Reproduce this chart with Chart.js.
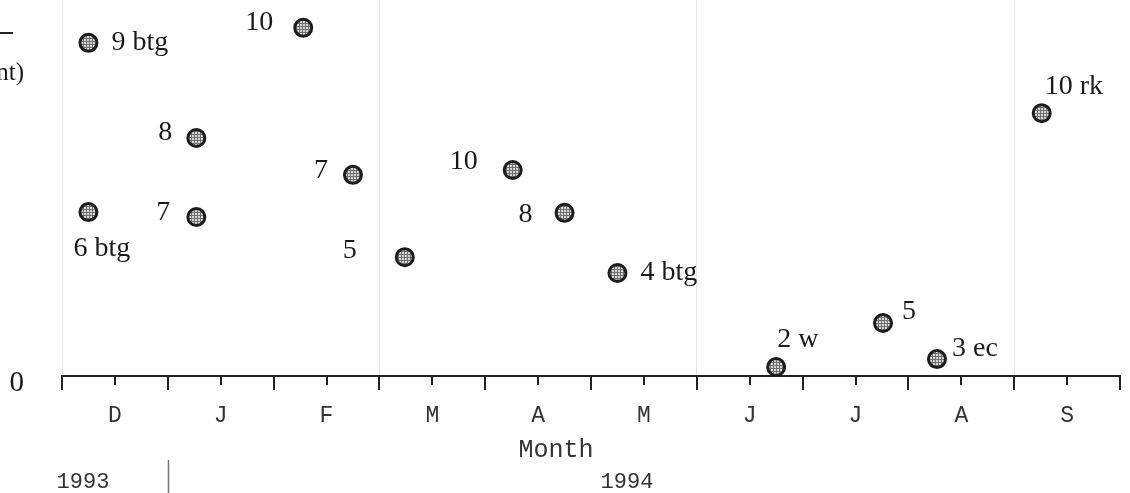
<!DOCTYPE html>
<html>
<head>
<meta charset="utf-8">
<script src="https://cdn.jsdelivr.net/npm/chart.js@4/dist/chart.umd.min.js"></script>
<style>
  html, body { margin: 0; padding: 0; background: #ffffff; }
  #wrap { width: 1130px; height: 493px; }
</style>
</head>
<body>
<div id="wrap"><canvas id="chart" width="1130" height="493"></canvas></div>
<script>
// Month axis: Dec 1993 .. Sep 1994, positions in months from 1 Dec 1993
const monthLabels = ['D', 'J', 'F', 'M', 'A', 'M', 'J', 'J', 'A', 'S'];
const yearLabels = ['1993', '1994'];

// Sampling dates (month position) and measured values
const sampleMonth = [0.25, 0.25, 1.27, 1.27, 2.28, 2.75, 3.24, 4.26, 4.75, 5.25, 6.75, 7.76, 8.27, 9.26];
const sampleValue = [88.6, 43.6, 63.3, 42.3, 92.6, 53.5, 31.6, 54.8, 43.4, 27.4, 2.4, 14.1, 4.5, 69.9];
const sampleNote  = ['9 btg', '6 btg', '8', '7', '10', '7', '5', '10', '8', '4 btg', '2 w', '5', '3 ec', '10 rk'];

// Where each note sits relative to its marker: [dx, dy, align]
const notePlacement = [
  [23, 0, 'left'], [-15, 37, 'left'], [-24, -5, 'right'], [-26, -4, 'right'],
  [-30, -5, 'right'], [-25, -4, 'right'], [-48, -7, 'right'], [-35, -8, 'right'],
  [-32, 2, 'right'], [23, 0, 'left'], [1, -27, 'left'], [19, -11, 'left'],
  [15, -10, 'left'], [3, -27, 'left']
];

const canvas = document.getElementById('chart');
const ctx = canvas.getContext('2d');

// Stippled grey fill for the markers
const tile = document.createElement('canvas');
tile.width = 3; tile.height = 3;
const tg = tile.getContext('2d');
tg.fillStyle = '#707070'; tg.fillRect(0, 0, 3, 3);
tg.fillStyle = '#d6d6d6'; tg.fillRect(0, 0, 2, 2);
const stipple = ctx.createPattern(tile, 'repeat');

const serif = "'Liberation Serif', 'Times New Roman', serif";
const mono = "'Liberation Mono', 'Courier New', monospace";

const points = sampleMonth.map((m, i) => ({ x: m, y: sampleValue[i] }));

function noPadding(scale) {
  scale.paddingTop = 0;
  scale.paddingBottom = 0;
  scale.paddingLeft = 0;
  scale.paddingRight = 0;
}

const decorations = {
  id: 'decorations',
  beforeDatasetsDraw(chart) {
    const c = chart.ctx;
    const xs = chart.scales.x;
    const base = chart.chartArea.bottom;
    c.save();
    c.strokeStyle = '#222';
    c.lineWidth = 2;
    for (let v = 0; v <= monthLabels.length + 1e-9; v += 0.5) {
      const px = Math.round(xs.getPixelForValue(v));
      const len = Number.isInteger(v) ? 14 : 9;
      c.beginPath();
      c.moveTo(px, base);
      c.lineTo(px, base + len);
      c.stroke();
    }
    c.restore();
  },
  afterDraw(chart) {
    const c = chart.ctx;
    const meta = chart.getDatasetMeta(0);
    c.save();
    // notes beside markers
    c.fillStyle = '#1a1a1a';
    c.font = '28px ' + serif;
    c.textBaseline = 'middle';
    meta.data.forEach((el, i) => {
      const [dx, dy, align] = notePlacement[i];
      c.textAlign = align;
      c.fillText(sampleNote[i], el.x + dx, el.y + dy);
    });

    // axis title and years
    c.fillStyle = '#333';
    c.textAlign = 'center';
    c.font = '25px ' + mono;
    c.fillText('Month', 556, 450);
    c.font = '22px ' + mono;
    c.fillText(yearLabels[0], 83, 482);
    c.fillText(yearLabels[1], 627, 482);
    c.strokeStyle = '#777';
    c.lineWidth = 1.5;
    c.beginPath();
    c.moveTo(168.5, 460);
    c.lineTo(168.5, 493);
    c.stroke();

    // edge of the vertical axis caption
    c.fillStyle = '#1a1a1a';
    c.font = '25px ' + serif;
    c.textAlign = 'right';
    c.fillText('nt)', 24, 73);
    c.strokeStyle = '#222';
    c.lineWidth = 2;
    c.beginPath();
    c.moveTo(0, 33);
    c.lineTo(13, 33);
    c.stroke();
    c.restore();
  }
};

new Chart(ctx, {
  type: 'scatter',
  data: {
    datasets: [{
      data: points,
      backgroundColor: stipple,
      borderColor: '#1c1c1c',
      borderWidth: 3,
      pointRadius: 8.5,
      pointHoverRadius: 8.5,
      clip: false
    }]
  },
  options: {
    responsive: false,
    devicePixelRatio: 1,
    animation: false,
    layout: { autoPadding: false, padding: { top: 0, left: 0, bottom: 0, right: 10 } },
    plugins: { legend: { display: false }, tooltip: { enabled: false } },
    scales: {
      x: {
        type: 'linear',
        position: 'bottom',
        min: 0,
        max: monthLabels.length,
        afterFit(scale) { scale.height = 117; noPadding(scale); },
        ticks: {
          stepSize: 0.5,
          autoSkip: false,
          maxRotation: 0,
          padding: 26,
          color: '#333',
          font: { family: mono, size: 23 },
          callback(value) {
            const i = Math.floor(value);
            return (Math.abs(value - i - 0.5) < 1e-6) ? monthLabels[i] : '';
          }
        },
        grid: {
          drawTicks: false,
          lineWidth: 1,
          color(ctx) {
            const v = ctx.tick ? ctx.tick.value : NaN;
            return (Number.isInteger(v) && v % 3 === 0 && v < monthLabels.length) ? '#e6e6e6' : 'rgba(0,0,0,0)';
          }
        },
        border: { display: true, color: '#222', width: 2 }
      },
      y: {
        min: 0,
        max: 100,
        afterFit(scale) { scale.width = 62; noPadding(scale); },
        ticks: {
          stepSize: 100,
          padding: 38,
          labelOffset: 7,
          color: '#1a1a1a',
          font: { family: serif, size: 29 },
          callback(value) { return value === 0 ? '0' : null; }
        },
        grid: { display: false, drawTicks: false },
        border: { display: false }
      }
    }
  },
  plugins: [decorations]
});
</script>
</body>
</html>
